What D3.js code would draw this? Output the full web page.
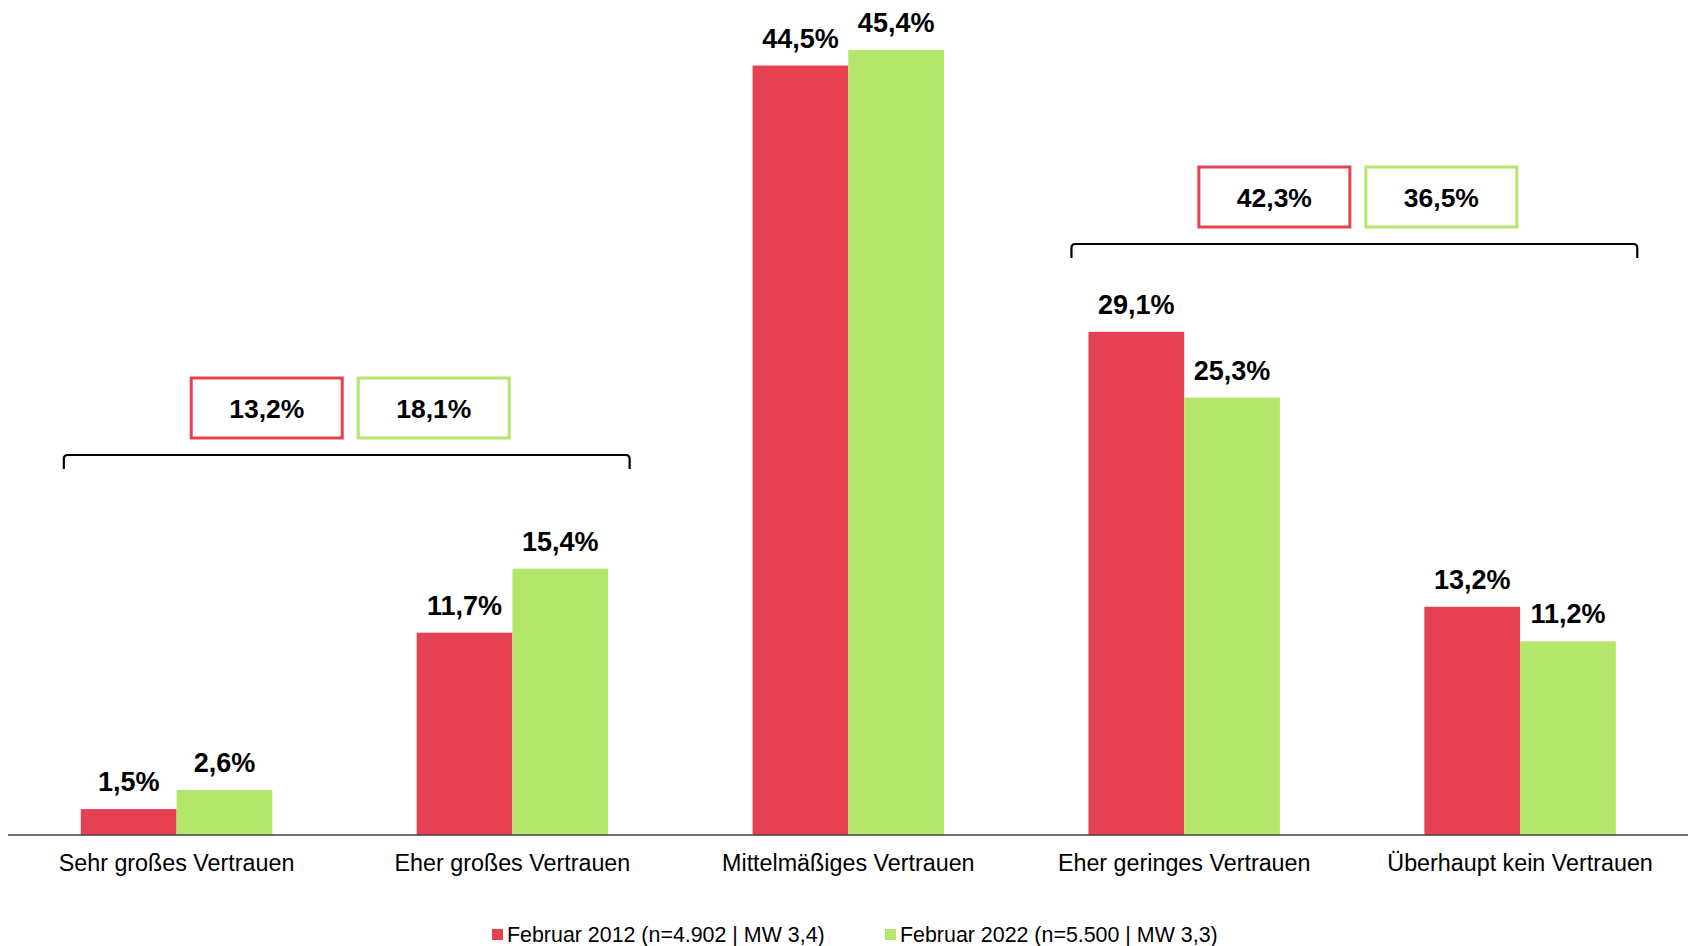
<!DOCTYPE html>
<html>
<head>
<meta charset="utf-8">
<script src="https://cdn.jsdelivr.net/npm/d3@7"></script>
<style>
  html, body { margin: 0; padding: 0; background: #fff; }
  svg { display: block; font-family: "Liberation Sans", Arial, sans-serif; }
</style>
</head>
<body>
<svg id="chart" width="1688" height="946"></svg>
<script>
// Vertrauen: Februar 2012 vs. Februar 2022
const categories = [
  "Sehr großes Vertrauen",
  "Eher großes Vertrauen",
  "Mittelmäßiges Vertrauen",
  "Eher geringes Vertrauen",
  "Überhaupt kein Vertrauen"
];
const seriesNames = [
  "Februar 2012 (n=4.902 | MW 3,4)",
  "Februar 2022 (n=5.500 | MW 3,3)"
];
const values2012 = [1.5, 11.7, 44.5, 29.1, 13.2];
const values2022 = [2.6, 15.4, 45.4, 25.3, 11.2];

// Zusammengefasste Anteile (Top-2 / Bottom-2)
const groupSpans = [[0, 1], [3, 4]];
const groupTotals2012 = [13.2, 42.3];
const groupTotals2022 = [18.1, 36.5];

const colors = ["#E64152", "#B3E66B"];
const fmt = v => d3.format(".1f")(v).replace(".", ",") + "%";

const svg = d3.select("#chart");
const W = 1688;
const baseY = 835;

const x0 = d3.scaleBand()
  .domain(categories)
  .range([8.6, W])
  .paddingInner(0.43)
  .paddingOuter(0.215);

const x1 = d3.scaleBand()
  .domain(seriesNames)
  .range([0, x0.bandwidth()])
  .padding(0);

const y = d3.scaleLinear().domain([0, 48]).range([baseY, 5]);

const rows = categories.map((c, i) => ({
  cat: c,
  vals: [values2012[i], values2022[i]]
}));

// Balken
const g = svg.append("g");
const groups = g.selectAll("g.cat")
  .data(rows)
  .join("g")
  .attr("class", "cat")
  .attr("transform", d => `translate(${x0(d.cat)},0)`);

groups.selectAll("rect")
  .data(d => d.vals.map((v, j) => ({ v, s: seriesNames[j], j })))
  .join("rect")
  .attr("x", d => x1(d.s))
  .attr("y", d => y(d.v))
  .attr("width", x1.bandwidth())
  .attr("height", d => baseY - y(d.v))
  .attr("fill", d => colors[d.j]);

groups.selectAll("text.val")
  .data(d => d.vals.map((v, j) => ({ v, s: seriesNames[j], j })))
  .join("text")
  .attr("class", "val")
  .attr("x", d => x1(d.s) + x1.bandwidth() / 2)
  .attr("y", d => y(d.v) - 18)
  .attr("text-anchor", "middle")
  .attr("font-size", 27)
  .attr("font-weight", "bold")
  .attr("fill", "#000")
  .text(d => fmt(d.v));

// x-Achse
const axis = d3.axisBottom(x0).tickSize(0).tickPadding(19);
const axG = svg.append("g")
  .attr("transform", `translate(0,${baseY})`)
  .call(axis);
axG.select(".domain").attr("stroke", "#404040").attr("stroke-width", 1.5)
  .attr("d", `M8,0H${W}`);
axG.selectAll("text")
  .attr("font-size", 23.3)
  .attr("fill", "#000")
  .attr("font-family", "'Liberation Sans', Arial, sans-serif");

// Klammern mit Summenkästen
const bracketY = [455, 244];
groupSpans.forEach((span, k) => {
  const xl = x0(categories[span[0]]) - 17;
  const xr = x0(categories[span[1]]) + x0.bandwidth() + 21.5;
  const by = bracketY[k];
  const r = 4;
  svg.append("path")
    .attr("d", `M${xl},${by + 14}V${by + r}Q${xl},${by} ${xl + r},${by}H${xr - r}Q${xr},${by} ${xr},${by + r}V${by + 14}`)
    .attr("fill", "none")
    .attr("stroke", "#000")
    .attr("stroke-width", 2.2);

  const cx = (xl + xr) / 2 + 3.5;
  const bw = 151, bh = 60, gap = 16;
  const boxTop = by - 17 - bh;
  const totals = [groupTotals2012[k], groupTotals2022[k]];
  totals.forEach((t, j) => {
    const bx = j === 0 ? cx - gap / 2 - bw : cx + gap / 2;
    svg.append("rect")
      .attr("x", bx).attr("y", boxTop)
      .attr("width", bw).attr("height", bh)
      .attr("fill", "#fff")
      .attr("stroke", colors[j])
      .attr("stroke-width", 3);
    svg.append("text")
      .attr("x", bx + bw / 2)
      .attr("y", boxTop + bh / 2 + 9.5)
      .attr("text-anchor", "middle")
      .attr("font-size", 26.5)
      .attr("font-weight", "bold")
      .text(fmt(t));
  });
});

// Legende
const legendY = 934.5;
const legendX = [492, 885];
seriesNames.forEach((s, j) => {
  svg.append("rect")
    .attr("x", legendX[j]).attr("y", legendY - 5.5)
    .attr("width", 11).attr("height", 11)
    .attr("fill", colors[j]);
  svg.append("text")
    .attr("x", legendX[j] + 15)
    .attr("y", legendY + 7.5)
    .attr("font-size", 21.4)
    .attr("fill", "#000")
    .text(s);
});
</script>
</body>
</html>
